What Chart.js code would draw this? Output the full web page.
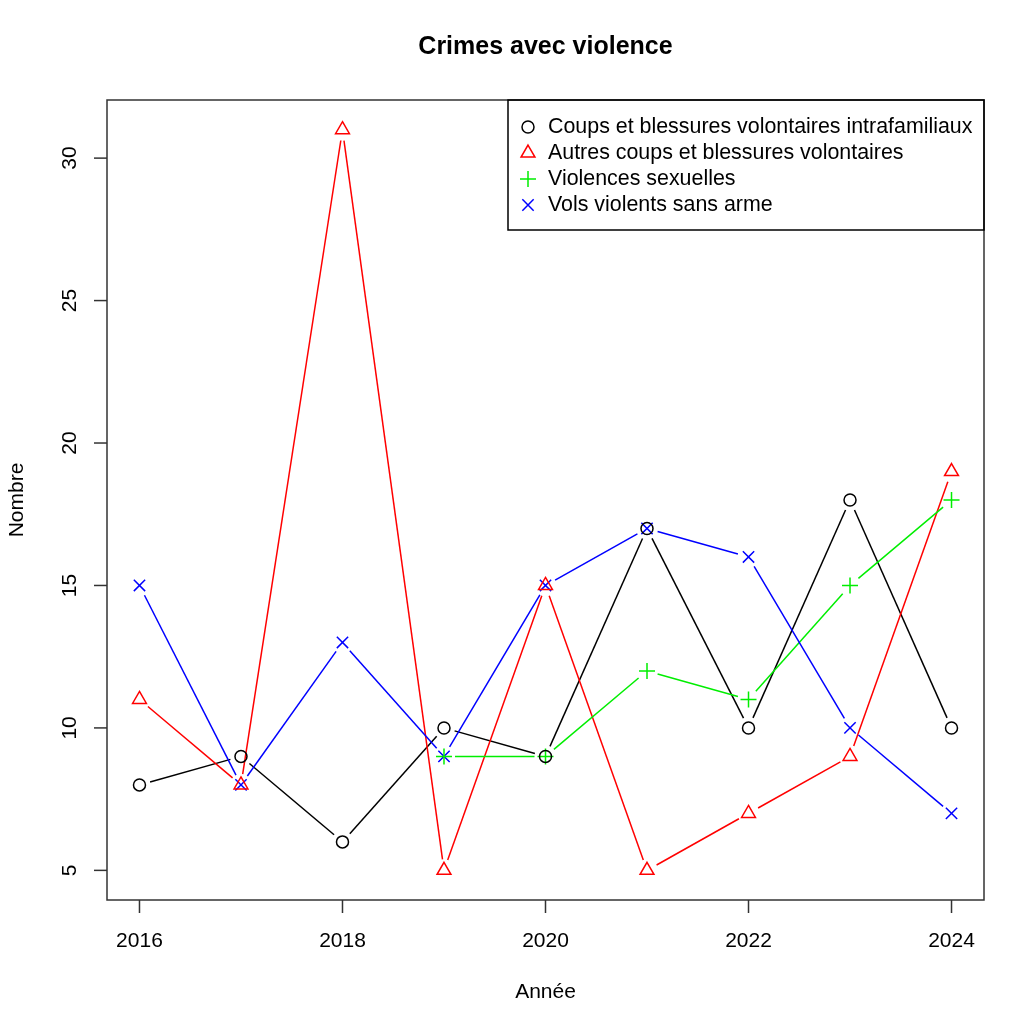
<!DOCTYPE html>
<html>
<head>
<meta charset="utf-8">
<script src="https://cdn.jsdelivr.net/npm/chart.js@4"></script>
<style>
  body { margin: 0; background: #fff; }
</style>
</head>
<body>
<canvas id="crimes" width="1022" height="1024"></canvas>
<script>
"use strict";

var years = [2016, 2017, 2018, 2019, 2020, 2021, 2022, 2023, 2024];
var intrafamiliaux = [8, 9, 6, 10, 9, 17, 10, 18, 10];
var autresCoups = [11, 8, 31, 5, 15, 5, 7, 9, 19];
var violencesSexuelles = [null, null, null, 9, 9, 12, 11, 15, 18];
var volsViolents = [15, 8, 13, 9, 15, 17, 16, 10, 7];

var xTicks = [2016, 2018, 2020, 2022, 2024];
var yTicks = [5, 10, 15, 20, 25, 30];

var FONT = '"Liberation Sans", Arial, sans-serif';

function toPoints(values) {
    var pts = [];
    for (var i = 0; i < years.length; i++) {
        if (values[i] !== null) pts.push({ x: years[i], y: values[i] });
    }
    return pts;
}

function serie(label, values, color, style, radius) {
    return {
        label: label,
        data: toPoints(values),
        borderColor: color,
        backgroundColor: "rgba(0,0,0,0)",
        pointBorderColor: color,
        pointBackgroundColor: "rgba(0,0,0,0)",
        pointStyle: style,
        pointRadius: radius,
        pointBorderWidth: 1.5,
        showLine: false
    };
}

/* lines drawn like R type="b": segments stop short of each point */
var gapLines = {
    id: "gapLines",
    beforeDatasetsDraw: function (chart) {
        var ctx = chart.ctx;
        var gap = 11;
        ctx.save();
        chart.data.datasets.forEach(function (ds, i) {
            var pts = chart.getDatasetMeta(i).data;
            ctx.strokeStyle = ds.borderColor;
            ctx.lineWidth = 1.5;
            for (var k = 0; k < pts.length - 1; k++) {
                var a = pts[k], b = pts[k + 1];
                var dx = b.x - a.x, dy = b.y - a.y;
                var len = Math.sqrt(dx * dx + dy * dy);
                if (len <= 2 * gap) continue;
                var ux = dx / len, uy = dy / len;
                ctx.beginPath();
                ctx.moveTo(a.x + ux * gap, a.y + uy * gap);
                ctx.lineTo(b.x - ux * gap, b.y - uy * gap);
                ctx.stroke();
            }
        });
        ctx.restore();
    }
};

/* frame, axes, titles and legend in the R base style */
var rFrame = {
    id: "rFrame",
    afterDraw: function (chart) {
        var ctx = chart.ctx;
        var area = chart.chartArea;
        var xs = chart.scales.x, ys = chart.scales.y;
        ctx.save();
        ctx.strokeStyle = "#333";
        ctx.lineWidth = 1.5;
        ctx.strokeRect(area.left, area.top, area.right - area.left, area.bottom - area.top);

        ctx.fillStyle = "#000";
        ctx.font = "21px " + FONT;
        ctx.textAlign = "center";
        ctx.textBaseline = "middle";
        xTicks.forEach(function (v) {
            var px = xs.getPixelForValue(v);
            ctx.beginPath();
            ctx.moveTo(px, area.bottom);
            ctx.lineTo(px, area.bottom + 13);
            ctx.stroke();
            ctx.fillText(String(v), px, 941);
        });
        yTicks.forEach(function (v) {
            var py = ys.getPixelForValue(v);
            ctx.beginPath();
            ctx.moveTo(area.left, py);
            ctx.lineTo(area.left - 13, py);
            ctx.stroke();
            ctx.save();
            ctx.translate(70, py);
            ctx.rotate(-Math.PI / 2);
            ctx.fillText(String(v), 0, 0);
            ctx.restore();
        });

        ctx.fillText("Année", (area.left + area.right) / 2, 992);
        ctx.save();
        ctx.translate(17, (area.top + area.bottom) / 2);
        ctx.rotate(-Math.PI / 2);
        ctx.fillText("Nombre", 0, 0);
        ctx.restore();

        ctx.font = "bold 25px " + FONT;
        ctx.fillText("Crimes avec violence", (area.left + area.right) / 2, 47);

        // legend box, top right
        var boxL = 508, boxT = area.top, boxR = area.right, rowH = 26;
        ctx.strokeStyle = "#000";
        ctx.lineWidth = 1.5;
        ctx.strokeRect(boxL, boxT, boxR - boxL, 130);
        ctx.font = "21.4px " + FONT;
        ctx.textAlign = "left";
        chart.data.datasets.forEach(function (ds, i) {
            var y = boxT + 27 + i * rowH;
            ctx.strokeStyle = ds.borderColor;
            ctx.fillStyle = "rgba(0,0,0,0)";
            ctx.lineWidth = 1.5;
            Chart.helpers.drawPoint(ctx, {
                pointStyle: ds.pointStyle,
                radius: ds.pointRadius,
                borderWidth: 1.5,
                rotation: 0
            }, 528, y);
            ctx.fillStyle = "#000";
            ctx.fillText(ds.label, 548, y);
        });
        ctx.restore();
    }
};

new Chart(document.getElementById("crimes"), {
    type: "line",
    data: {
        datasets: [
            serie("Coups et blessures volontaires intrafamiliaux", intrafamiliaux, "#000000", "circle", 6),
            serie("Autres coups et blessures volontaires", autresCoups, "#ff0000", "triangle", 8),
            serie("Violences sexuelles", violencesSexuelles, "#00ee00", "cross", 8),
            serie("Vols violents sans arme", volsViolents, "#0000ff", "crossRot", 8)
        ]
    },
    options: {
        responsive: false,
        animation: false,
        layout: { padding: { left: 107, top: 100, right: 38, bottom: 124 } },
        scales: {
            x: { type: "linear", min: 2015.68, max: 2024.32, display: false },
            y: { min: 3.96, max: 32.04, display: false }
        },
        plugins: {
            legend: { display: false },
            tooltip: { enabled: false }
        }
    },
    plugins: [gapLines, rFrame]
});
</script>
</body>
</html>
